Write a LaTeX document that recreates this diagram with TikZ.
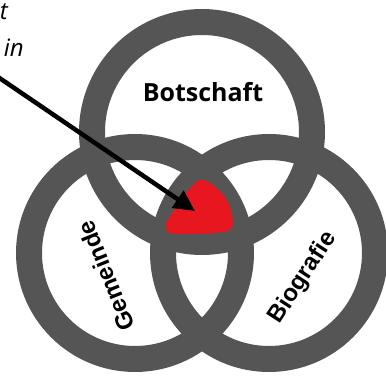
\documentclass[tikz,border=0pt]{standalone}
\usepackage{fontspec}
\setmainfont{Liberation Sans}
\newfontfamily\opensans{Open Sans}
\usetikzlibrary{arrows.meta}
\definecolor{ringgray}{HTML}{555555}
\definecolor{blobred}{HTML}{E8161E}
\tikzset{
  ring/.style={draw=ringgray, line width=26pt},
  ringlabel/.style={inner sep=0pt, font=\fontsize{24}{28}\selectfont\bfseries},
  toplabel/.style={inner sep=0pt, font=\opensans\fontsize{25}{30}\selectfont\bfseries},
  fragment/.style={inner sep=0pt, font=\opensans\fontsize{24}{28}\selectfont\itshape},
  pointer/.style={line width=4.5pt, -{Triangle[length=21pt,width=20pt]}}
}
\begin{document}
\begin{tikzpicture}[x=1pt,y=-1pt]
\useasboundingbox (0,0) rectangle (386,379);
\fill[white] (0,0) rectangle (386,379);
% rings
\draw[ring] (202,132) circle[radius=110pt];
\draw[ring] (135,253) circle[radius=106pt];
\draw[ring] (269,253) circle[radius=106pt];
% red blob
\fill[blobred] plot[smooth cycle, tension=0.6] coordinates {
  (200,180) (214,186) (226,199) (232,215) (231,229) (215,233)
  (190,234) (170,233) (166,224) (175,209) (186,193)};
% labels
\node[toplabel, anchor=base] (bot) at (203,102) {Botschaft};
\node[ringlabel, rotate=112] (gem) at (106,276) {Gemeinde};
\node[ringlabel, rotate=57] (bio) at (303,278) {Biografie};
% cut-off text fragments
\node[fragment, anchor=base east] (fragA) at (8,20) {t};
\node[fragment, anchor=base east] (fragB) at (24,57) {in};
% arrow
\coordinate (src) at (-2,77);
\coordinate (tip) at (195,211);
\draw[pointer] (src) -- (tip);
\end{tikzpicture}
\end{document}
